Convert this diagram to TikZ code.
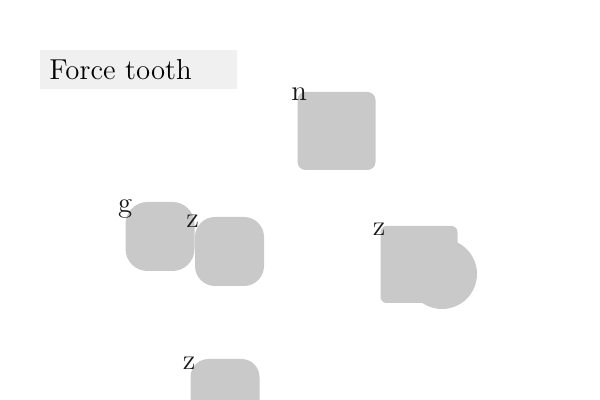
\documentclass[tikz,border=0pt]{standalone}
\begin{document}
\begin{tikzpicture}[x=0.5pt,y=-0.5pt,font=\Large,
		part/.style={fill=black!21,draw=none,inner sep=0pt,minimum width=#1,minimum height=#1},
		tag/.style={inner sep=0pt,anchor=center,text=black!90},
		heading/.style={fill=black!6,inner xsep=4.5pt,inner ysep=0pt,minimum height=19.5pt,text width=89.5pt,align=left,anchor=north west}]
				\useasboundingbox (0,0) rectangle (600,400);
				\node[heading] (title) at (40,50) {Force tooth};
				% parts
				\node[part=39pt,rounded corners=4pt] (partn) at (336.5,131) {};
				\node[part=34.5pt,rounded corners=11pt] (partg) at (160,236.5) {};
				\node[part=34.5pt,rounded corners=10pt] (partza) at (229.5,251.5) {};
				\node[circle,fill=black!21,inner sep=0pt,minimum size=35pt] (knob) at (442,274) {};
				\node[part=38.5pt,rounded corners=3pt] (partzb) at (419,264.5) {};
				\node[part=34.5pt,rounded corners=9pt] (partzc) at (225,393.5) {};
				% labels
				\node[tag] (tagn) at ([xshift=1pt,yshift=-1.5pt]partn.north west) {n};
				\node[tag] (tagg) at ([yshift=-3.5pt]partg.north west) {g};
				\node[tag] (tagza) at ([xshift=-1pt,yshift=-2.5pt]partza.north west) {z};
				\node[tag] (tagzb) at ([xshift=-0.5pt,yshift=-2pt]partzb.north west) {z};
				\node[tag] (tagzc) at ([xshift=-0.5pt,yshift=-2.5pt]partzc.north west) {z};
			\end{tikzpicture}
\end{document}
